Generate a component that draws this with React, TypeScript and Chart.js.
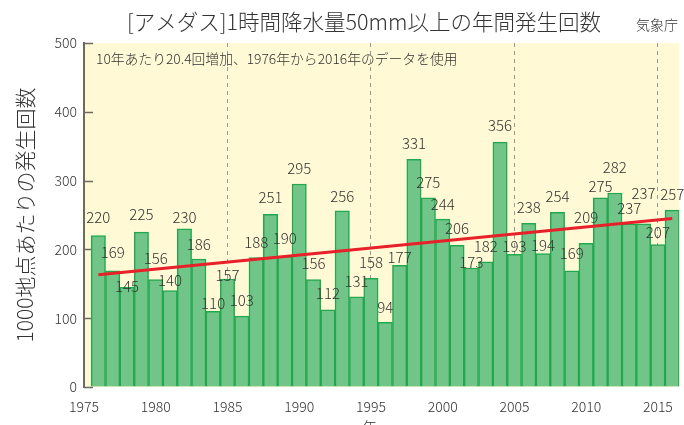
import React, { useEffect, useRef } from "react";
import { Chart, registerables } from "chart.js";

Chart.register(...registerables);

const years: number[] = [
  1976, 1977, 1978, 1979, 1980, 1981, 1982, 1983, 1984, 1985,
  1986, 1987, 1988, 1989, 1990, 1991, 1992, 1993, 1994, 1995,
  1996, 1997, 1998, 1999, 2000, 2001, 2002, 2003, 2004, 2005,
  2006, 2007, 2008, 2009, 2010, 2011, 2012, 2013, 2014, 2015, 2016,
];
const counts: number[] = [
  220, 169, 145, 225, 156, 140, 230, 186, 110, 157,
  103, 188, 251, 190, 295, 156, 112, 256, 131, 158,
  94, 177, 331, 275, 244, 206, 173, 182, 356, 193,
  238, 194, 254, 169, 209, 275, 282, 237, 237, 207, 257,
];
// trend line end points (year, value)
const trendYears: number[] = [1976, 2016];
const trendValues: number[] = [163.3, 244.9];
// dashed reference years
const dashedYears: number[] = [1985, 1995, 2005, 2015];

// label lift above bar top (px), to avoid overlaps as in the original
const labelLift: number[] = [
  18, 18, 1, 18, 21, 10, 11, 15, 8, 4,
  16, 15, 17, 18, 16, 16, 17, 15, 16, 16,
  15, 8, 16, 16, 15, 17, 6, 15, 17, 8,
  16, 8, 16, 17, 26, 12, 26, 16, 31, 12, 16,
];

const FONT = "'Noto Sans CJK JP', 'Noto Sans', sans-serif";
const TEXT = "#333333";

const decorPlugin = {
  id: "decor",
  beforeDraw(chart: any) {
    const { ctx, chartArea } = chart;
    ctx.save();
    ctx.fillStyle = "#FFF9D6";
    ctx.fillRect(chartArea.left, chartArea.top, chartArea.right - chartArea.left, chartArea.bottom - chartArea.top);
    ctx.restore();
  },
  beforeDatasetsDraw(chart: any) {
    const { ctx, chartArea, scales } = chart;
    const y = scales.y;
    ctx.save();
    ctx.strokeStyle = "#6E6A60";
    ctx.lineWidth = 1.5;
    for (let v = 0; v <= 500; v += 100) {
      const py = Math.round(y.getPixelForValue(v)) + 0.5;
      ctx.beginPath();
      ctx.moveTo(chartArea.left, py);
      ctx.lineTo(chartArea.left + 9, py);
      ctx.stroke();
    }
    ctx.restore();
  },
  afterDatasetsDraw(chart: any) {
    const { ctx, scales } = chart;
    const x = scales.x;
    const y = scales.y;
    ctx.save();
    ctx.font = `300 15px ${FONT}`;
    ctx.fillStyle = TEXT;
    ctx.textAlign = "center";
    ctx.textBaseline = "middle";
    years.forEach((yr, i) => {
      const px = x.getPixelForValue(yr);
      const py = y.getPixelForValue(counts[i]) - labelLift[i];
      ctx.fillText(String(counts[i]), px, py);
    });
    ctx.restore();
  },
  afterDraw(chart: any) {
    const { ctx, chartArea } = chart;
    ctx.save();
    ctx.fillStyle = TEXT;
    ctx.textBaseline = "middle";
    ctx.textAlign = "center";
    ctx.font = `300 21.5px ${FONT}`;
    ctx.fillText("[アメダス]1時間降水量50mm以上の年間発生回数", 364, 22);
    ctx.font = `300 14px ${FONT}`;
    ctx.fillText("気象庁", 657, 25);
    ctx.textAlign = "left";
    ctx.font = `300 13.8px ${FONT}`;
    ctx.fillText("10年あたり20.4回増加、1976年から2016年のデータを使用", 96, 59);
    ctx.textAlign = "center";
    ctx.font = `300 14px ${FONT}`;
    ctx.fillText("年", (chartArea.left + chartArea.right) / 2 - 12, 427);
    ctx.restore();
  },
};

export default function App() {
  const ref = useRef<HTMLCanvasElement | null>(null);
  useEffect(() => {
    if (!ref.current) return;
    const chart = new Chart(ref.current, {
      type: "bar",
      data: {
        datasets: [
          {
            type: "line",
            data: trendYears.map((yr, i) => ({ x: yr, y: trendValues[i] })),
            borderColor: "#E8202A",
            borderWidth: 3,
            pointRadius: 0,
            fill: false,
            order: 0,
          } as any,
          {
            type: "bar",
            data: years.map((yr, i) => ({ x: yr, y: counts[i] })),
            backgroundColor: "#72C589",
            borderColor: "#22A84F",
            borderWidth: 1.5,
            barPercentage: 1,
            categoryPercentage: 1,
            order: 1,
          } as any,
        ],
      },
      options: {
        animation: false,
        responsive: true,
        maintainAspectRatio: false,
        layout: { padding: { left: 0, right: 4, top: 43, bottom: 0 } },
        plugins: { legend: { display: false }, tooltip: { enabled: false } },
        scales: {
          x: {
            type: "linear",
            min: 1975,
            max: 2016.5,
            offset: false,
            afterFit: (s: any) => { s.height = 38; },
            border: { display: false, dash: [4, 4] },
            grid: {
              display: true,
              offset: false,
              drawTicks: false,
              drawOnChartArea: true,
              color: (c: any) => (c.tick && dashedYears.includes(c.tick.value) ? "#9A9A9A" : "rgba(0,0,0,0)"),
              lineWidth: 1,
            },
            ticks: {
              stepSize: 5,
              includeBounds: false,
              padding: 11,
              color: TEXT,
              font: { family: FONT, size: 14, weight: "300" },
              callback: (v: any) => String(v),
              maxRotation: 0,
              autoSkip: false,
            },
          } as any,
          y: {
            min: 0,
            max: 500,
            afterFit: (s: any) => { s.width = 84; },
            border: { display: true, color: "#6E6A60", width: 2 },
            grid: { display: true, drawTicks: false, drawOnChartArea: false, color: "rgba(0,0,0,0)" },
            ticks: {
              stepSize: 100,
              padding: 7,
              color: TEXT,
              font: { family: FONT, size: 14, weight: "300" },
            },
            title: {
              display: true,
              text: "1000地点あたりの発生回数",
              color: TEXT,
              font: { family: FONT, size: 21, weight: "300" },
              padding: { top: 12, bottom: 0 },
            },
          } as any,
        },
      } as any,
      plugins: [decorPlugin],
    });
    return () => chart.destroy();
  }, []);
  return (
    <div style={{ position: "absolute", left: 0, top: 0, width: 684, height: 425, background: "#fff" }}>
      <canvas ref={ref} />
    </div>
  );
}
